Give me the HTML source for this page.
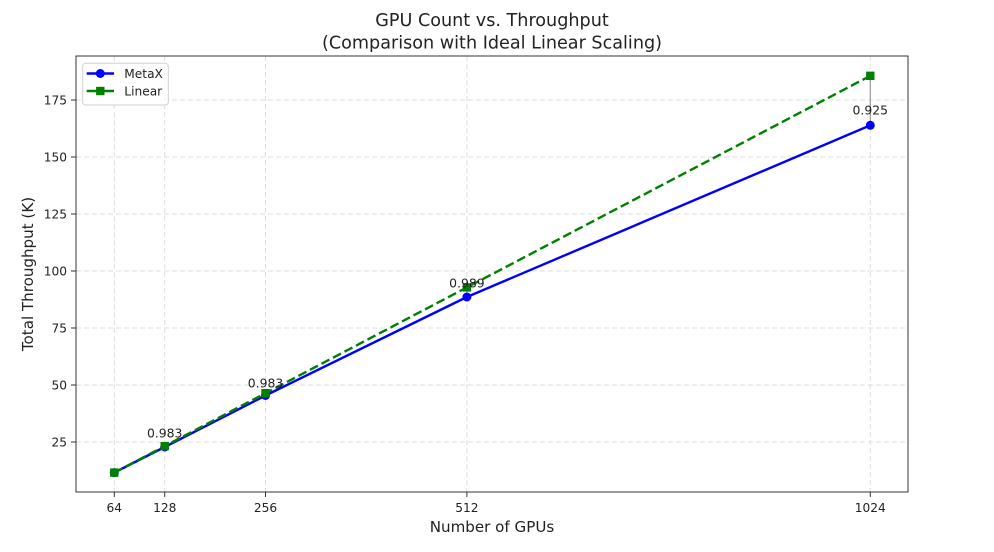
<!DOCTYPE html>
<html><head><meta charset="utf-8"><style>
html,body{margin:0;padding:0;background:#fff;}
svg{display:block;font-family:"DejaVu Sans","Liberation Sans",sans-serif;}
</style></head><body>
<svg width="994" height="552" viewBox="0 0 994 552" xmlns="http://www.w3.org/2000/svg">
<rect width="994" height="552" fill="#fff"/>
<!-- grid -->
<g stroke="#dddddd" stroke-width="1" stroke-dasharray="5,3" fill="none">
<line x1="114.3" y1="56" x2="114.3" y2="492"/>
<line x1="164.7" y1="56" x2="164.7" y2="492"/>
<line x1="265.5" y1="56" x2="265.5" y2="492"/>
<line x1="466.9" y1="56" x2="466.9" y2="492"/>
<line x1="870.3" y1="56" x2="870.3" y2="492"/>
<line x1="76" y1="442" x2="908" y2="442"/>
<line x1="76" y1="385" x2="908" y2="385"/>
<line x1="76" y1="328" x2="908" y2="328"/>
<line x1="76" y1="271" x2="908" y2="271"/>
<line x1="76" y1="214" x2="908" y2="214"/>
<line x1="76" y1="157" x2="908" y2="157"/>
<line x1="76" y1="100" x2="908" y2="100"/>
</g>
<!-- gap lines -->
<g stroke="#999" stroke-width="1.2">
<line x1="870.3" y1="75.8" x2="870.3" y2="125.3"/>
<line x1="466.9" y1="287.4" x2="466.9" y2="297"/>
</g>
<!-- MetaX -->
<polyline points="114.3,472.6 164.7,447 265.5,395.5 466.9,297 870.3,125.3" fill="none" stroke="#0000ff" stroke-width="2.4" stroke-linejoin="round"/>
<g fill="#0000ff">
<circle cx="114.3" cy="472.6" r="4.5"/><circle cx="164.7" cy="447" r="4.5"/><circle cx="265.5" cy="395.5" r="4.5"/><circle cx="466.9" cy="297" r="4.5"/><circle cx="870.3" cy="125.3" r="4.5"/>
</g>
<!-- Linear -->
<polyline points="114.3,472.6 164.7,446.1 265.5,393.2 466.9,287.4 870.3,75.8" fill="none" stroke="#008000" stroke-width="2.4" stroke-dasharray="9,4"/>
<g fill="#008000">
<rect x="110.1" y="468.4" width="8.4" height="8.4"/><rect x="160.5" y="441.9" width="8.4" height="8.4"/><rect x="261.3" y="389" width="8.4" height="8.4"/><rect x="462.7" y="283.2" width="8.4" height="8.4"/><rect x="866.1" y="71.6" width="8.4" height="8.4"/>
</g>
<!-- annotations -->
<g font-size="12.4" fill="#222" text-anchor="middle">
<text x="164.7" y="437.5">0.983</text>
<text x="265.5" y="387.5">0.983</text>
<text x="466.9" y="287.5">0.989</text>
<text x="870.3" y="114.5">0.925</text>
</g>
<!-- axes frame -->
<rect x="76" y="56" width="832" height="436" fill="none" stroke="#333" stroke-width="1"/>
<!-- ticks -->
<g stroke="#333" stroke-width="1">
<line x1="114.3" y1="492" x2="114.3" y2="497"/>
<line x1="164.7" y1="492" x2="164.7" y2="497"/>
<line x1="265.5" y1="492" x2="265.5" y2="497"/>
<line x1="466.9" y1="492" x2="466.9" y2="497"/>
<line x1="870.3" y1="492" x2="870.3" y2="497"/>
<line x1="71" y1="442" x2="76" y2="442"/>
<line x1="71" y1="385" x2="76" y2="385"/>
<line x1="71" y1="328" x2="76" y2="328"/>
<line x1="71" y1="271" x2="76" y2="271"/>
<line x1="71" y1="214" x2="76" y2="214"/>
<line x1="71" y1="157" x2="76" y2="157"/>
<line x1="71" y1="100" x2="76" y2="100"/>
</g>
<g font-size="12.2" fill="#222" text-anchor="middle">
<text x="114.3" y="512">64</text>
<text x="164.7" y="512">128</text>
<text x="265.5" y="512">256</text>
<text x="466.9" y="512">512</text>
<text x="870.3" y="512">1024</text>
</g>
<g font-size="12.2" fill="#222" text-anchor="end">
<text x="67" y="446.3">25</text>
<text x="67" y="389.3">50</text>
<text x="67" y="332.3">75</text>
<text x="67" y="275.3">100</text>
<text x="67" y="218.3">125</text>
<text x="67" y="161.3">150</text>
<text x="67" y="104.3">175</text>
</g>
<!-- axis labels -->
<text x="492" y="532" font-size="15.1" fill="#222" text-anchor="middle">Number of GPUs</text>
<text transform="translate(33,274) rotate(-90)" font-size="15.1" fill="#222" text-anchor="middle">Total Throughput (K)</text>
<!-- title -->
<text x="492" y="26" font-size="17.6" fill="#222" text-anchor="middle">GPU Count vs. Throughput</text>
<text x="492" y="48.5" font-size="17.6" fill="#222" text-anchor="middle">(Comparison with Ideal Linear Scaling)</text>
<!-- legend -->
<rect x="82.7" y="63.3" width="85.6" height="41.7" rx="3" fill="#fff" fill-opacity="0.85" stroke="#d0d0d0" stroke-width="1"/>
<line x1="86.7" y1="73.5" x2="114" y2="73.5" stroke="#0000ff" stroke-width="2.4"/>
<circle cx="100.3" cy="73.5" r="4.5" fill="#0000ff"/>
<line x1="86.7" y1="91" x2="114" y2="91" stroke="#008000" stroke-width="2.4"/>
<rect x="96.1" y="86.8" width="8.4" height="8.4" fill="#008000"/>
<text x="124.3" y="77.8" font-size="12.2" fill="#222">MetaX</text>
<text x="124.3" y="95.3" font-size="12.2" fill="#222">Linear</text>
</svg>
</body></html>
